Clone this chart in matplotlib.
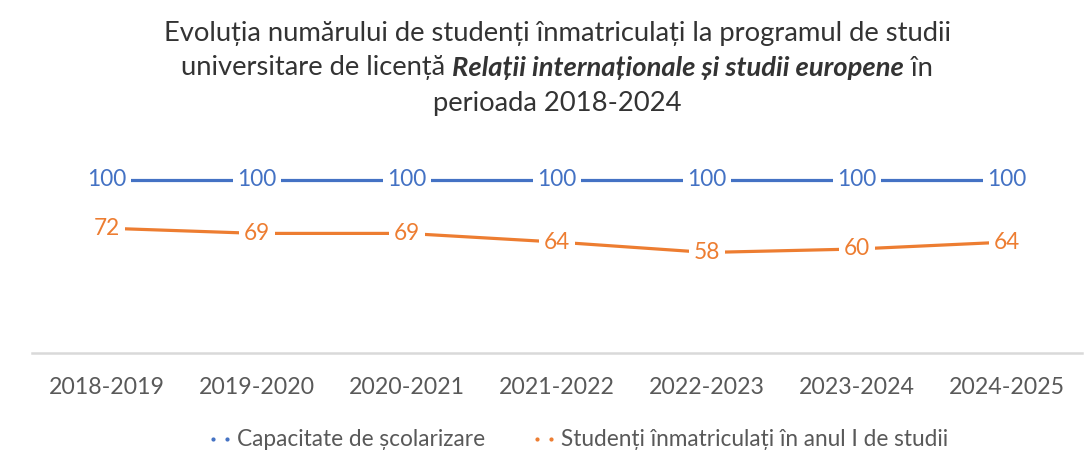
import matplotlib
matplotlib.use("Agg")
import matplotlib.pyplot as plt
from matplotlib.lines import Line2D

plt.rcParams['font.family'] = ['Lato', 'DejaVu Sans']

# data
years = ["2018-2019", "2019-2020", "2020-2021", "2021-2022",
         "2022-2023", "2023-2024", "2024-2025"]
capacitate = [100, 100, 100, 100, 100, 100, 100]
inmatriculati = [72, 69, 69, 64, 58, 60, 64]

series_names = ["Capacitate de școlarizare",
                "Studenți înmatriculați în anul I de studii"]
blue = "#4472C4"
orange = "#ED7D31"
gray_txt = "#595959"

fig = plt.figure(figsize=(10.89, 4.74), dpi=100)
W, H = 1089, 474
ax = fig.add_axes([32 / W, (H - 353) / H, (1082 - 32) / W, (353 - 145) / H])

x = list(range(len(years)))
ax.plot(x, capacitate, color=blue, lw=2.3, solid_capstyle="butt", zorder=2)
ax.plot(x, inmatriculati, color=orange, lw=2.3, solid_capstyle="butt", zorder=2)

for xi, v in zip(x, capacitate):
    ax.text(xi, v, str(v), color=blue, fontsize=16.3, ha="center", va="center",
            zorder=3, bbox=dict(boxstyle="square,pad=0.2", fc="white", ec="none"))
for xi, v in zip(x, inmatriculati):
    ax.text(xi, v, str(v), color=orange, fontsize=16.3, ha="center", va="center",
            zorder=3, bbox=dict(boxstyle="square,pad=0.2", fc="white", ec="none"))

ax.set_xlim(-0.5, len(years) - 0.5)
ax.set_ylim(0, 120)
ax.set_xticks(x)
ax.set_xticklabels(years, fontsize=16.7, color=gray_txt)
ax.tick_params(axis="x", length=0, pad=17)
ax.set_yticks([])
for s in ["top", "right", "left"]:
    ax.spines[s].set_visible(False)
ax.spines["bottom"].set_color("#d9d9d9")
ax.spines["bottom"].set_linewidth(1.8)

# title, with bold italic program name
title_color = "#333333"
tsize = 19.7
fig.text(557 / W, 1 - 33 / H, "Evoluția numărului de studenți înmatriculați la programul de studii",
         ha="center", va="center", fontsize=tsize, color=title_color)
fig.text(557 / W, 1 - 103 / H, "perioada 2018-2024",
         ha="center", va="center", fontsize=tsize, color=title_color)

parts = [("universitare de licență ", "normal", "normal"),
         ("Relații internaționale și studii europene", "bold", "italic"),
         (" în", "normal", "normal")]
fig.canvas.draw()
renderer = fig.canvas.get_renderer()
texts = []
total = 0
for s, wgt, sty in parts:
    t = fig.text(0, 1 - 68 / H, s, ha="left", va="center", fontsize=tsize,
                 color=title_color, fontweight=wgt, fontstyle=sty)
    w = t.get_window_extent(renderer).width
    texts.append((t, w))
    total += w
xpos = 557 - total / 2
for t, w in texts:
    t.set_x(xpos / W)
    xpos += w

handles = [Line2D([], [], color=blue, ls="none", marker=".", markersize=4),
           Line2D([], [], color=orange, ls="none", marker=".", markersize=4)]
fig.legend(handles, series_names, loc="center", bbox_to_anchor=(577 / W, 1 - 440 / H),
           ncol=2, frameon=False, numpoints=2, handlelength=1.2, handletextpad=0.15,
           columnspacing=2.0, fontsize=16.3, labelcolor=gray_txt)

fig.savefig("out.png", dpi=100, facecolor="white")
